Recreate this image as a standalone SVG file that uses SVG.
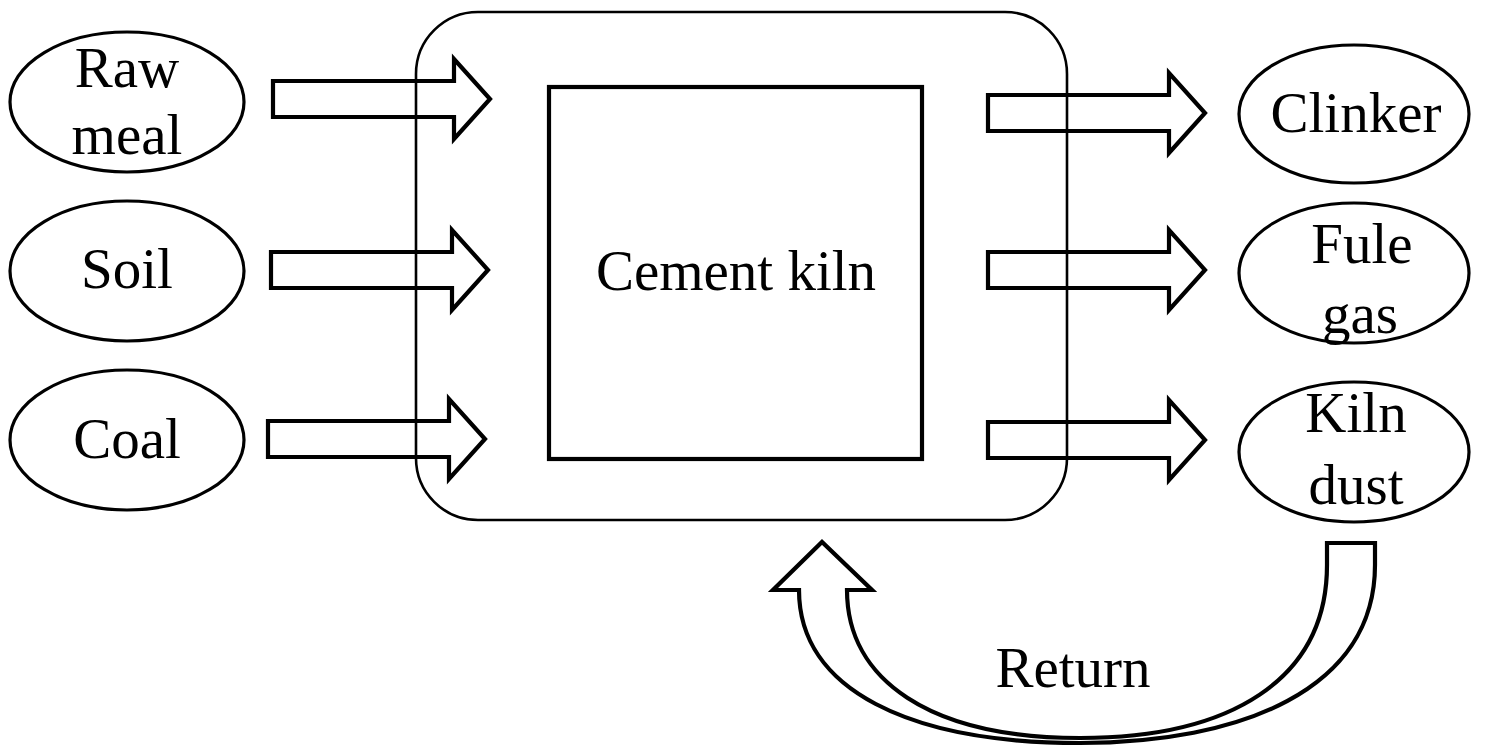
<svg xmlns="http://www.w3.org/2000/svg" width="1494" height="747" viewBox="0 0 1494 747">
  <style>
    .lbl { font-family: "Liberation Serif", "Times New Roman", serif; font-size: 57px; fill: #000; text-anchor: middle; }
    .ell { fill: none; stroke: #000; stroke-width: 3.2; }
    .blk { fill: none; stroke: #000; stroke-width: 4.2; stroke-linejoin: miter; }
    .frame { fill: none; stroke: #000; stroke-width: 2.6; }
  </style>
  <defs>
    <!-- block arrow pointing right, origin at left end of shaft centreline -->
    <polygon id="barrow" class="blk" points="0,-18 181,-18 181,-40 217,0 181,40 181,18 0,18 0,-18"/>
  </defs>
  <rect width="1494" height="747" fill="#fff"/>

  <!-- outer system boundary -->
  <g id="system">
    <rect class="frame" x="416" y="12" width="651" height="508" rx="62" ry="62"/>
  </g>

  <!-- kiln -->
  <g id="kiln">
    <rect class="blk" x="549" y="87" width="373" height="372"/>
    <text class="lbl" x="736" y="290" font-size="58">Cement kiln</text>
  </g>

  <!-- inputs -->
  <g id="raw-meal">
    <ellipse class="ell" cx="127" cy="102" rx="117" ry="70"/>
    <text class="lbl" x="127" y="87">Raw</text>
    <text class="lbl" x="127" y="154">meal</text>
  </g>
  <g id="soil">
    <ellipse class="ell" cx="127" cy="271" rx="117" ry="70"/>
    <text class="lbl" x="127" y="288">Soil</text>
  </g>
  <g id="coal">
    <ellipse class="ell" cx="127" cy="440" rx="117" ry="70"/>
    <text class="lbl" x="127" y="458">Coal</text>
  </g>

  <!-- outputs -->
  <g id="clinker">
    <ellipse class="ell" cx="1354" cy="114" rx="115" ry="69"/>
    <text class="lbl" x="1356" y="132">Clinker</text>
  </g>
  <g id="flue-gas">
    <ellipse class="ell" cx="1354" cy="273" rx="115" ry="70"/>
    <text class="lbl" x="1362" y="263">Fule</text>
    <text class="lbl" x="1360" y="333">gas</text>
  </g>
  <g id="kiln-dust">
    <ellipse class="ell" cx="1354" cy="452" rx="115" ry="70"/>
    <text class="lbl" x="1356" y="432">Kiln</text>
    <text class="lbl" x="1356" y="504">dust</text>
  </g>

  <!-- flows -->
  <g id="connectors">
    <use href="#barrow" x="273" y="99"/>
    <use href="#barrow" x="271" y="270"/>
    <use href="#barrow" x="268" y="439"/>
    <use href="#barrow" x="988" y="113"/>
    <use href="#barrow" x="988" y="270"/>
    <use href="#barrow" x="988" y="440"/>
    <!-- curved return arrow from kiln dust back to the system -->
    <path class="blk" d="M 1327 543 L 1375 543 L 1375 565 C 1375 690, 1240 743, 1080 743 C 910 743, 799 690, 799 590 L 773 590 L 822 542 L 872 590 L 847 590 C 847 680, 930 738, 1080 738 C 1230 738, 1327 680, 1327 565 Z"/>
    <text class="lbl" x="1073" y="687">Return</text>
  </g>
</svg>
